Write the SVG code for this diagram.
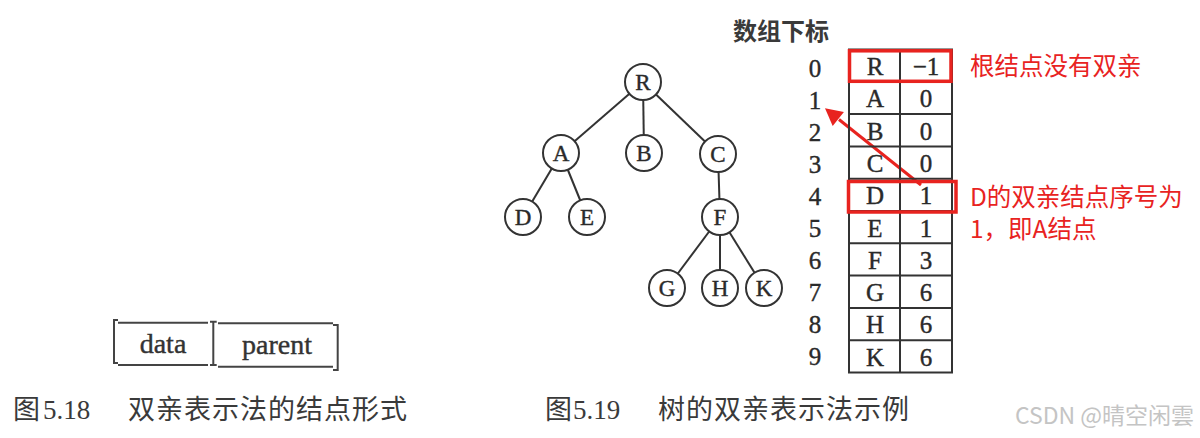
<svg xmlns="http://www.w3.org/2000/svg" width="1200" height="438" viewBox="0 0 1200 438">
<defs>
<style>
.edge{stroke:#333;stroke-width:2;fill:none}
.circ{stroke:#333;stroke-width:2;fill:#fff}
.lt{font-family:"Liberation Serif","Times New Roman",serif;font-size:23px;fill:#2a2a2a;stroke:#2a2a2a;stroke-width:0.4;text-anchor:middle}
.cell{font-family:"Liberation Serif","Times New Roman",serif;font-size:25px;fill:#2a2a2a;stroke:#2a2a2a;stroke-width:0.4;text-anchor:middle}
.grid{stroke:#333;stroke-width:2;fill:none}
.red{stroke:#e8231f;stroke-width:3.5;fill:none}
.note{font-family:"Noto Sans CJK SC","Microsoft YaHei",sans-serif;font-size:24.5px;fill:#e8231f}
.cap{font-family:"Liberation Serif","Noto Sans CJK SC",serif;font-size:27px;fill:#3a3a3a}
.cn{font-family:"Noto Sans CJK SC",sans-serif;letter-spacing:1px}
.fld{font-family:"Liberation Serif","Times New Roman",serif;font-size:28px;fill:#333;stroke:#333;stroke-width:0.4;text-anchor:middle}
.br{stroke:#444;stroke-width:2;fill:none}
</style>
</defs>
<rect width="1200" height="438" fill="#fff"/>

<g id="connectors">
<line class="edge" x1="643" y1="82" x2="561" y2="153"/>
<line class="edge" x1="643" y1="82" x2="644" y2="153"/>
<line class="edge" x1="643" y1="82" x2="718" y2="154"/>
<line class="edge" x1="561" y1="153" x2="523" y2="217"/>
<line class="edge" x1="561" y1="153" x2="587" y2="217"/>
<line class="edge" x1="718" y1="154" x2="720" y2="217"/>
<line class="edge" x1="720" y1="217" x2="667" y2="288"/>
<line class="edge" x1="720" y1="217" x2="720" y2="288"/>
<line class="edge" x1="720" y1="217" x2="764" y2="288"/>
<g id="red-arrow">
<line x1="921" y1="185" x2="839" y2="119.5" stroke="#e8231f" stroke-width="3"/>
<polygon points="825,108.3 843.9,111.9 832.7,125.9" fill="#e8231f"/>
</g>
</g>

<g id="node-R"><circle class="circ" cx="643" cy="82" r="18"/><text class="lt" x="643" y="90">R</text></g>
<g id="node-A"><circle class="circ" cx="561" cy="153" r="18"/><text class="lt" x="561" y="161">A</text></g>
<g id="node-B"><circle class="circ" cx="644" cy="153" r="18"/><text class="lt" x="644" y="161">B</text></g>
<g id="node-C"><circle class="circ" cx="718" cy="154" r="18"/><text class="lt" x="718" y="162">C</text></g>
<g id="node-D"><circle class="circ" cx="523" cy="217" r="18"/><text class="lt" x="523" y="225">D</text></g>
<g id="node-E"><circle class="circ" cx="587" cy="217" r="18"/><text class="lt" x="587" y="225">E</text></g>
<g id="node-F"><circle class="circ" cx="720" cy="217" r="18"/><text class="lt" x="720" y="225">F</text></g>
<g id="node-G"><circle class="circ" cx="667" cy="288" r="18"/><text class="lt" x="667" y="296">G</text></g>
<g id="node-H"><circle class="circ" cx="720" cy="288" r="18"/><text class="lt" x="720" y="296">H</text></g>
<g id="node-K"><circle class="circ" cx="764" cy="288" r="18"/><text class="lt" x="764" y="296">K</text></g>

<g id="array-table">
<text x="733" y="40" font-family="Noto Sans CJK SC,sans-serif" font-weight="bold" font-size="24" fill="#3a3a3a">数组下标</text>
<rect class="grid" x="849" y="49.5" width="103" height="323"/>
<line class="grid" x1="900" y1="49.5" x2="900" y2="372.5"/>
<line class="grid" x1="849" y1="81.8" x2="952" y2="81.8"/>
<line class="grid" x1="849" y1="114.1" x2="952" y2="114.1"/>
<line class="grid" x1="849" y1="146.4" x2="952" y2="146.4"/>
<line class="grid" x1="849" y1="178.7" x2="952" y2="178.7"/>
<line class="grid" x1="849" y1="211" x2="952" y2="211"/>
<line class="grid" x1="849" y1="243.3" x2="952" y2="243.3"/>
<line class="grid" x1="849" y1="275.6" x2="952" y2="275.6"/>
<line class="grid" x1="849" y1="307.9" x2="952" y2="307.9"/>
<line class="grid" x1="849" y1="340.2" x2="952" y2="340.2"/>
<g class="cell">
<text x="815" y="76.5">0</text><text x="815" y="108.6">1</text><text x="815" y="140.6">2</text><text x="815" y="172.7">3</text><text x="815" y="204.7">4</text>
<text x="815" y="236.8">5</text><text x="815" y="268.8">6</text><text x="815" y="300.9">7</text><text x="815" y="332.9">8</text><text x="815" y="365">9</text>
<text x="875" y="75">R</text><text x="875" y="107.3">A</text><text x="875" y="139.6">B</text><text x="875" y="171.9">C</text><text x="875" y="204.2">D</text>
<text x="875" y="236.5">E</text><text x="875" y="268.8">F</text><text x="875" y="301.1">G</text><text x="875" y="333.4">H</text><text x="875" y="365.7">K</text>
<text x="926" y="75">−1</text><text x="926" y="107.3">0</text><text x="926" y="139.6">0</text><text x="926" y="171.9">0</text><text x="926" y="204.2">1</text>
<text x="926" y="236.5">1</text><text x="926" y="268.8">3</text><text x="926" y="301.1">6</text><text x="926" y="333.4">6</text><text x="926" y="365.7">6</text>
</g>
</g>

<g id="annotations">
<rect class="red" x="849.5" y="50.8" width="101.5" height="30.5"/>
<rect class="red" x="848.5" y="181.5" width="107.5" height="30.5"/>
<text class="note" x="970" y="75">根结点没有双亲</text>
<text class="note" x="970" y="206">D的双亲结点序号为</text>
<text class="note" x="970" y="238">1，即A结点</text>
</g>

<g id="node-form">
<path class="br" d="M118,320 L114,320 L114,363 L118,363"/>
<line class="br" x1="118" y1="322.7" x2="208" y2="322.7"/>
<line class="br" x1="118" y1="365" x2="208" y2="365"/>
<path class="br" d="M210,321.7 L216.7,321.7 M213.3,321.7 L213.3,365 M210,365 L216.7,365"/>
<line class="br" x1="218" y1="323.3" x2="333" y2="323.3"/>
<line class="br" x1="218" y1="366.7" x2="333" y2="366.7"/>
<path class="br" d="M333,325 L337.7,325 L337.7,370 L333,370"/>
<text class="fld" x="163" y="353.3">data</text>
<text class="fld" x="277" y="354.3">parent</text>
</g>

<g id="captions">
<text class="cap" y="419"><tspan x="13" class="cn">图</tspan><tspan x="43">5.18</tspan><tspan x="128" class="cn">双亲表示法的结点形式</tspan></text>
<text class="cap" y="419"><tspan x="545" class="cn">图</tspan><tspan x="573">5.19</tspan><tspan x="658" class="cn">树的双亲表示法示例</tspan></text>
<text x="1015" y="424" font-family="Noto Sans CJK SC,sans-serif" font-size="23" fill="#c4c4c4">CSDN @晴空闲雲</text>
</g>
</svg>
